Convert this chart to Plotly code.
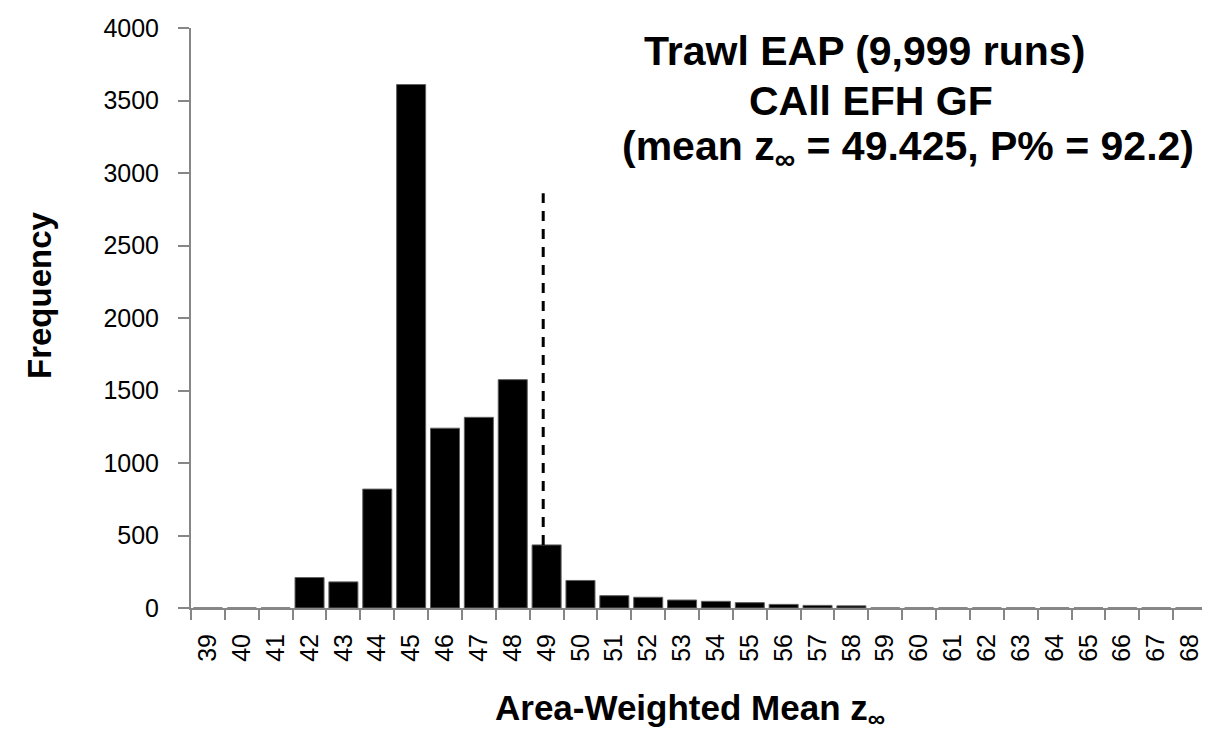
import plotly.graph_objects as go

# ---- data ----
categories = [str(v) for v in range(39, 69)]
frequency = [0, 0, 0, 210, 180, 820, 3610, 1240, 1315, 1575, 435, 190,
             85, 74, 55, 46, 37, 25, 18, 15, 0, 0, 0, 0, 0, 0, 0, 0, 0, 0]
y_ticks = [0, 500, 1000, 1500, 2000, 2500, 3000, 3500, 4000]
mean_line_x = 48.9        # position of dashed marker on the z axis
mean_line_top = 2860      # top of dashed marker (frequency units)
mean_line_bottom = 435    # bottom (top of the 49 bar)

title_lines = ["Trawl EAP (9,999 runs)", "CAll EFH GF",
               "(mean z<sub>∞</sub> = 49.425, P% = 92.2)"]

FONT = "Liberation Sans, Arial, sans-serif"
W, H = 1210, 731
L, R, T, B = 183, 11, 20, 131
PW, PH = W - L - R, H - T - B


def px(x):
    return (x - L) / PW


def py(y):
    return (H - B - y) / PH


fig = go.Figure()
fig.add_trace(go.Bar(
    x=categories, y=frequency,
    marker=dict(color="black", line=dict(color="#606060", width=1)),
    hoverinfo="x+y",
))

line_idx = mean_line_x - int(categories[0])
fig.add_shape(type="line", xref="x", yref="y",
              x0=line_idx, x1=line_idx, y0=mean_line_bottom, y1=mean_line_top,
              line=dict(color="black", width=3, dash="10px,8px"))

title_pos = [(856, 43), (863, 93), (900, 141)]
for txt, (tx, ty) in zip(title_lines, title_pos):
    fig.add_annotation(xref="paper", yref="paper", x=px(tx), y=py(ty),
                       text="<b>" + txt + "</b>", showarrow=False,
                       xanchor="center", yanchor="middle",
                       font=dict(family=FONT, size=41, color="black"))

fig.add_annotation(xref="paper", yref="paper", x=px(31), y=py(287),
                   text="<b>Frequency</b>", showarrow=False, textangle=-90,
                   xanchor="center", yanchor="middle",
                   font=dict(family=FONT, size=33, color="black"))

fig.add_annotation(xref="paper", yref="paper", x=px(682), y=py(702),
                   text="<b>Area-Weighted Mean z<sub>∞</sub></b>", showarrow=False,
                   xanchor="center", yanchor="middle",
                   font=dict(family=FONT, size=35, color="black"))

fig.update_layout(
    template="none",
    width=W, height=H,
    margin=dict(l=L, r=R, t=T, b=B, pad=0, autoexpand=False),
    paper_bgcolor="white", plot_bgcolor="white",
    showlegend=False, bargap=0.143,
    font=dict(family=FONT, color="black"),
)
fig.update_xaxes(
    type="category", tickson="boundaries", tickangle=-90, automargin=False,
    showline=True, linecolor="#868686", linewidth=2,
    ticks="outside", ticklen=10, tickwidth=2, tickcolor="#868686",
    tickfont=dict(family=FONT, size=25, color="black"),
    ticklabelstandoff=14,
    showgrid=False, zeroline=False, range=[-0.5, 29.5],
)
fig.update_yaxes(
    range=[0, 4000], tickvals=y_ticks, automargin=False,
    showline=True, linecolor="#868686", linewidth=2,
    ticks="outside", ticklen=11, tickwidth=2, tickcolor="#868686",
    tickfont=dict(family=FONT, size=25, color="black"),
    ticklabelstandoff=14,
    showgrid=False, zeroline=False,
)

fig.write_html("out.html")
